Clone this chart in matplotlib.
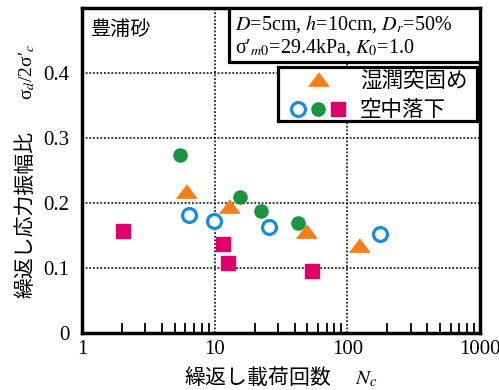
import matplotlib
matplotlib.use("Agg")
import matplotlib.pyplot as plt
from matplotlib.legend_handler import HandlerTuple
from matplotlib.lines import Line2D
from matplotlib.patches import Rectangle

plt.rcParams["mathtext.fontset"] = "stix"
plt.rcParams["font.family"] = ["Liberation Serif", "Noto Sans CJK JP"]

# Wet tamping (triangles)
wet_n = [6.05, 12.8, 48.9, 121.7]
wet_r = [0.219, 0.196, 0.157, 0.135]
# Air pluviation, three groups (open circles, filled circles, squares)
air_open_n = [6.4, 9.9, 25.9, 177.0]
air_open_r = [0.182, 0.172, 0.163, 0.152]
air_fill_n = [5.46, 15.4, 22.4, 42.3]
air_fill_r = [0.274, 0.209, 0.187, 0.169]
air_sq_n = [2.02, 11.5, 12.6, 53.9]
air_sq_r = [0.157, 0.137, 0.107, 0.095]

xticks = [1, 10, 100, 1000]
xticklabels = ["1", "10", "100", "1000"]
yticks = [0, 0.1, 0.2, 0.3, 0.4]
yticklabels = ["0", "0.1", "0.2", "0.3", "0.4"]

ORANGE = "#fb7d16"
GREEN = "#1b9442"
BLUE = "#168ce0"
PINK = "#df0069"

CJK = ["Noto Sans CJK JP", "DejaVu Sans"]
SERIF = ["Liberation Serif", "DejaVu Serif"]

W, H = 499, 390
fig = plt.figure(figsize=(W / 100, H / 100), dpi=100)
ax = fig.add_axes([82 / W, 57 / H, 398 / W, 325 / H])

ax.set_xscale("log")
ax.set_xlim(1, 1000)
ax.set_ylim(0, 0.5)

tri = [(-1.0, -0.66), (1.0, -0.66), (0.0, 0.66)]
st_wet = dict(marker=tri, ms=14.5, color=ORANGE, mec=ORANGE, ls="none")
st_open = dict(marker="o", ms=10, mfc="white", mec=BLUE, mew=2.3, ls="none")
st_fill = dict(marker="o", ms=9.5, color=GREEN, mec=GREEN, ls="none")
st_sq = dict(marker="s", ms=10, color=PINK, mec=PINK, ls="none")

ax.plot(air_sq_n, air_sq_r, zorder=3, **st_sq)
ax.plot(air_open_n, air_open_r, zorder=3, **st_open)
ax.plot(air_fill_n, air_fill_r, zorder=3, **st_fill)
ax.plot(wet_n, wet_r, zorder=4, **st_wet)

ax.set_xticks(xticks)
ax.set_xticklabels(xticklabels)
ax.set_yticks(yticks)
ax.set_yticklabels(yticklabels)
ax.tick_params(axis="both", which="major", length=0, labelsize=15)
ax.tick_params(axis="y", which="major", pad=9)
ax.tick_params(axis="x", which="major", pad=5)
ax.tick_params(axis="x", which="minor", direction="in", length=7.5, width=1.3,
               labelbottom=False)
ax.tick_params(axis="y", which="minor", length=0)

for s in ax.spines.values():
    s.set_linewidth(2.5)

ax.grid(True, which="major", axis="both", color="black", ls=(0, (1.2, 1.2)), lw=1.1)
ax.set_axisbelow(True)

ax.set_xlabel("繰返し載荷回数　 $N_c$", fontsize=15, family=CJK, labelpad=4)

# Vertical axis title: Japanese part and symbol part
fig.text(25 / W, 1 - 214 / H, "繰返し応力振幅比", rotation=90, fontsize=15,
         family=CJK, ha="center", va="center")
fig.text(27 / W, 1 - 72 / H, "σ$_d$/2σ′$_c$", rotation=90, fontsize=14,
         family=SERIF, ha="center", va="center")

ax.text(0.022, 0.965, "豊浦砂", transform=ax.transAxes, fontsize=14.5, family=CJK,
        va="top", ha="left")

# Test condition box
ax.add_patch(Rectangle((0.369, 0.834), 0.631, 0.166, transform=ax.transAxes,
                       facecolor="white", edgecolor="black", lw=2.3, zorder=5))
ax.text(0.385, 0.952, r"$D$=5cm, $h$=10cm, $D_r$=50%", transform=ax.transAxes,
        fontsize=14.5, va="center", ha="left", zorder=6)
ax.text(0.385, 0.878, r"σ′$_{m\mathrm{0}}$=29.4kPa, $K_\mathrm{0}$=1.0",
        transform=ax.transAxes, fontsize=14.5, va="center", ha="left", zorder=6)

# Legend frame
ax.add_patch(Rectangle((0.492, 0.652), 0.500, 0.166, transform=ax.transAxes,
                       facecolor="white", edgecolor="black", lw=2.3, zorder=5))

h_wet = Line2D([], [], **st_wet)
h_air = (Line2D([], [], **st_open), Line2D([], [], **st_fill), Line2D([], [], **st_sq))
leg = ax.legend([h_wet, h_air], ["湿潤突固め", "空中落下"],
                handler_map={tuple: HandlerTuple(ndivide=None, pad=0)},
                loc="center left", bbox_to_anchor=(0.5176, 0.7308),
                prop={"family": CJK, "size": 15.5}, frameon=False,
                handlelength=2.79, handletextpad=0.56, borderpad=0,
                labelspacing=0.34, borderaxespad=0)
leg.set_zorder(6)

fig.savefig("out.png", dpi=100)
